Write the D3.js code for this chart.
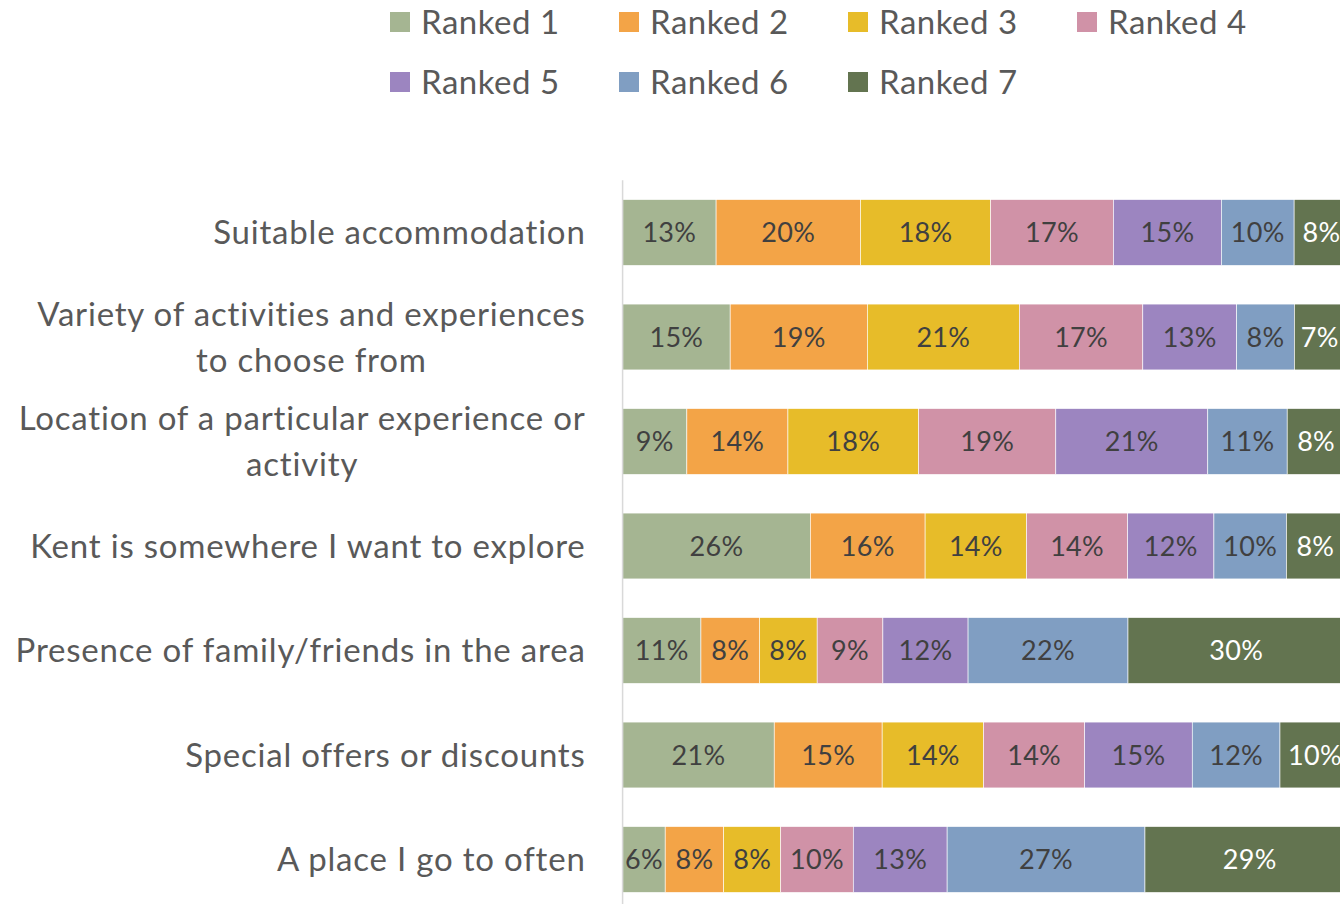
<!DOCTYPE html>
<html>
<head>
<meta charset="utf-8">
<script src="https://cdn.jsdelivr.net/npm/d3@7"></script>
<style>
    body { margin: 0; background: #fff; overflow: hidden; }
    svg { display: block; font-family: Lato, "Open Sans", sans-serif; }
</style>
</head>
<body>
<div id="chart"></div>
<script>
const WIDTH = 1340;
const HEIGHT = 904;

// categories, top to bottom ("|" marks a line break in the axis label)
const categories = [
    "Suitable accommodation",
    "Variety of activities and experiences|to choose from",
    "Location of a particular experience or|activity",
    "Kent is somewhere I want to explore",
    "Presence of family/friends in the area",
    "Special offers or discounts",
    "A place I go to often"
];

const series = ["Ranked 1", "Ranked 2", "Ranked 3", "Ranked 4", "Ranked 5", "Ranked 6", "Ranked 7"];
const colors = ["#a5b592", "#f3a447", "#e7bc29", "#d092a7", "#9c85c0", "#809ec2", "#637450"];

// share of respondents (%) per rank, in category order
const ranked1 = [12.95, 14.9, 8.9, 26.0, 10.85, 21.0, 5.9];
const ranked2 = [20.0, 19.0, 14.0, 15.9, 8.1, 14.95, 8.1];
const ranked3 = [18.03, 21.05, 18.1, 14.05, 8.0, 14.05, 7.9];
const ranked4 = [17.0, 17.1, 19.0, 14.0, 9.1, 14.0, 10.05];
const ranked5 = [14.96, 13.0, 21.05, 11.95, 11.8, 14.9, 13.0];
const ranked6 = [10.07, 8.0, 11.0, 10.05, 22.15, 12.15, 27.4];
const ranked7 = [7.6, 7.0, 8.0, 8.0, 30.0, 9.7, 29.0];

const seriesValues = [ranked1, ranked2, ranked3, ranked4, ranked5, ranked6, ranked7];

let rows = categories.map((c, i) => {
    let row = { category: c };
    series.forEach((s, j) => { row[s] = seriesValues[j][i]; });
    return row;
});

let stacked = d3.stack().keys(series)(rows);

var svg = d3.select('#chart')
    .append('svg')
    .attr('width', WIDTH)
    .attr('height', HEIGHT);

let x = d3.scaleLinear()
    .domain([0, 100])
    .range([622.6, 1344.6]);

let y = d3.scaleBand()
    .domain(categories)
    .range([180.25, 911.75])
    .paddingInner(0.37)
    .paddingOuter(0.185);

// bars
let layers = svg.append('g')
    .selectAll('g')
    .data(stacked)
    .enter()
    .append('g')
    .attr('fill', (d, i) => colors[i]);

layers.selectAll('rect')
    .data(d => d)
    .enter()
    .append('rect')
    .attr('x', d => x(d[0]))
    .attr('y', d => y(d.data.category))
    .attr('width', d => x(d[1]) - x(d[0]))
    .attr('height', y.bandwidth())
    .attr('stroke', '#ffffff')
    .attr('stroke-width', 0.6);

// data labels
let fmt = d3.format('.0f');
layers.each(function(layer, i) {
    d3.select(this).selectAll('text')
        .data(layer)
        .enter()
        .append('text')
        .attr('x', d => (x(d[0]) + x(d[1])) / 2)
        .attr('y', d => y(d.data.category) + y.bandwidth() / 2)
        .attr('dy', '0.36em')
        .attr('text-anchor', 'middle')
        .attr('font-size', 27)
        .attr('letter-spacing', 0.3)
        .attr('fill', i == 6 ? '#ffffff' : '#404040')
        .text(d => fmt(d[1] - d[0]) + '%');
});

// category axis
let axis = svg.append('g')
    .attr('transform', `translate(${x(0)},0)`)
    .call(d3.axisLeft(y).tickSize(0).tickPadding(37).tickFormat(''));

axis.select('.domain')
    .attr('stroke', '#d9d9d9')
    .attr('stroke-width', 1.5)
    .attr('d', `M0,${y.range()[0]}V${HEIGHT + 10}`);

axis.selectAll('.tick text')
    .attr('font-size', 33)
    .attr('letter-spacing', 0.8)
    .attr('font-family', 'Lato, sans-serif')
    .attr('fill', '#595959')
    .attr('text-anchor', 'middle')
    .each(function(d) {
        let lines = d.split('|');
        let t = d3.select(this);
        let tx = -37;
        // wrapped labels are centered on their widest line, right-aligned overall
        t.text(null);
        let tspans = lines.map((line, k) => t.append('tspan')
            .attr('y', (k - (lines.length - 1) / 2) * 46)
            .attr('dy', '0.35em')
            .text(line));
        let widths = tspans.map(s => s.node().getComputedTextLength());
        let maxW = d3.max(widths);
        tspans.forEach(s => s.attr('x', tx - maxW / 2));
    });

// legend
let legend = svg.append('g');
let items = legend.selectAll('g')
    .data(series)
    .enter()
    .append('g')
    .attr('transform', (d, i) => `translate(${390 + (i % 4) * 229},${12 + Math.floor(i / 4) * 60})`);

items.append('rect')
    .attr('width', 20)
    .attr('height', 20)
    .attr('fill', (d, i) => colors[i]);

items.append('text')
    .attr('x', 31)
    .attr('y', 10)
    .attr('dy', '0.36em')
    .attr('font-size', 33)
    .attr('letter-spacing', 0.5)
    .attr('fill', '#595959')
    .text(d => d);
</script>
</body>
</html>
